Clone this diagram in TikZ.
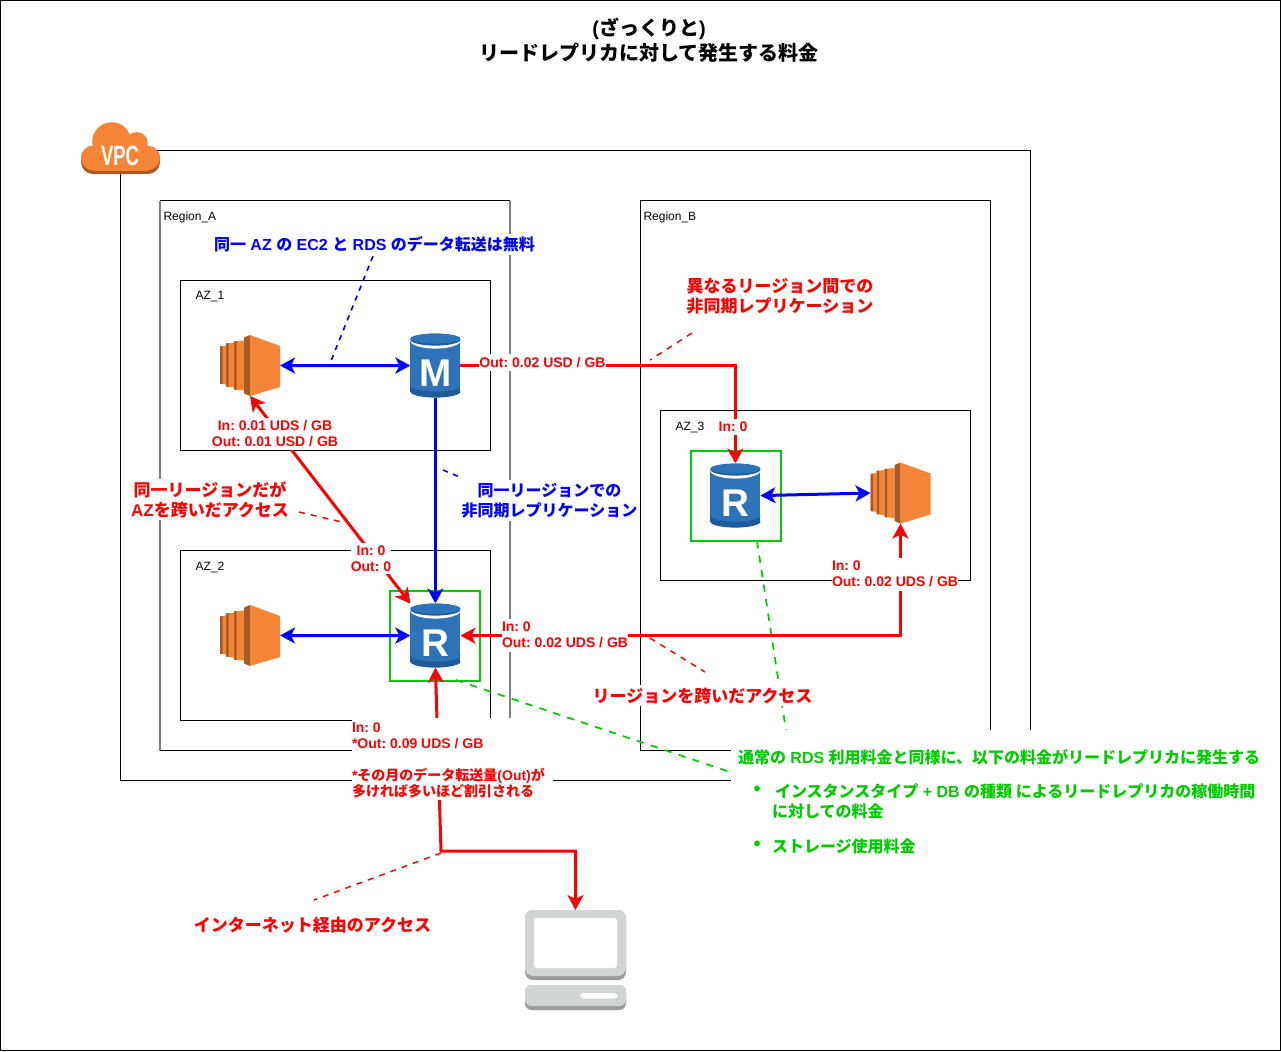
\documentclass[tikz,border=0pt]{standalone}
\usepackage{fontspec}
\setmainfont{Liberation Sans}
\newfontfamily\cjk{Noto Sans CJK JP}
\newcommand{\cj}[1]{{\cjk #1}}
\usetikzlibrary{arrows.meta,calc}
\definecolor{awsorange}{HTML}{F58536}
\definecolor{awsdark}{HTML}{A85A25}
\definecolor{rdsblue}{HTML}{2E73B8}
\definecolor{rdsdark}{HTML}{205B99}
\definecolor{pclight}{HTML}{D2D3D3}
\definecolor{pcdark}{HTML}{9B9B9B}
\definecolor{grn}{HTML}{00CC00}
\tikzset{
 x=0.75pt,y=-0.75pt,
 boxline/.style={draw=black,line width=0.75pt},
 greyline/.style={draw=black!50,line width=1.3pt},
 icon/.style={inner sep=0,outer sep=0,minimum width=50*0.75pt,minimum height=64*0.75pt},
 ectwobox/.style={inner sep=0,outer sep=0,minimum width=60*0.75pt,minimum height=61*0.75pt},
 tipb/.tip={Stealth[length=11.25pt,width=12pt,inset=3pt]},
 bluearrow/.style={draw=blue,line width=2.25pt},
 redarrow/.style={draw=red,line width=2.25pt},
 bluenote/.style={draw=blue,line width=1.2pt,dash pattern=on 4pt off 4pt},
 rednote/.style={draw=red,line width=1.1pt,dash pattern=on 4.5pt off 4.5pt},
 greennote/.style={draw=grn,line width=1.3pt,dash pattern=on 5.5pt off 5.5pt},
 lab/.style={inner sep=0,outer sep=0,font=\fontsize{10.5}{12}\selectfont\bfseries\frenchspacing,text=red,fill=white},
 big/.style={inner sep=0,outer sep=0,font=\fontsize{12}{15}\selectfont\bfseries\frenchspacing,fill=white},
 bigr/.style={inner sep=0,outer sep=0,font=\fontsize{12.75}{15}\selectfont\bfseries\frenchspacing,fill=white,text=red},
 small/.style={inner sep=0,outer sep=0,font=\fontsize{9}{11}\selectfont,anchor=west},
 ectwoicon/.pic={
  \foreach \a/\w/\t/\b in {-30/6/-19/18,-24/8/-22/21,-16/10/-24/24}{
   \fill[awsorange] (\a,\t) -- (\a+\w,\t-1) -- (\a+\w,\b+1) -- (\a,\b) -- cycle;
   \fill[awsdark] (\a,\t) -- (\a+2.5,\t-0.5) -- (\a+2.5,\b+0.5) -- (\a,\b) -- cycle;
  }
  \fill[awsdark] (-6,-28) -- (0,-30.5) -- (0,30.5) -- (-6,28) -- cycle;
  \fill[awsorange] (0,-30.5) -- (30,-19.5) -- (30,21.5) -- (0,30.5) -- cycle;
 },
 rdsicon/.pic={
  \fill[rdsdark] (0,26) ellipse [x radius=25,y radius=6];
  \fill[rdsdark] (-25,20) rectangle (25,26);
  \fill[rdsblue] (0,20) ellipse [x radius=25,y radius=6];
  \fill[rdsblue] (-25,-25) rectangle (25,20);
  \fill[white] (0,-25) ellipse [x radius=25,y radius=8];
  \fill[rdsdark] (0,-26) ellipse [x radius=25,y radius=6];
  \fill[rdsblue] (0,-27) ellipse [x radius=25,y radius=5];
  \node[inner sep=0,text=white,font=\fontsize{29}{29}\selectfont\bfseries] (lbl) at (0,8) {#1};
 },
 pcicon/.pic={
  \fill[pcdark,rounded corners=6pt] (-50.5,-50) rectangle (50.5,20);
  \fill[pclight,rounded corners=6pt] (-50.5,-50) rectangle (50.5,16);
  \fill[white,rounded corners=2pt] (-41.5,-42) rectangle (41.5,8);
  \fill[pcdark,rounded corners=5pt] (-50.5,25) rectangle (50.5,50);
  \fill[pclight,rounded corners=5pt] (-50.5,25) rectangle (50.5,46);
  \fill[white,rounded corners=2.5pt] (4.5,33) rectangle (42,38.5);
 }
}
\begin{document}
\begin{tikzpicture}
\useasboundingbox (0,0) rectangle (1281,1051);
\draw[boxline] (0.5,0.5) rectangle (1280.5,1050.5);
% containers
\draw[boxline] (120.5,150.5) rectangle (1030.5,780.5);
\draw[greyline] (160,200.5) -- (160,750.5);
\draw[greyline] (510,200.5) -- (510,750.5);
\draw[boxline] (160,200.5) -- (510,200.5);
\draw[boxline] (160,750.5) -- (510,750.5);
\draw[boxline] (640.5,200.5) rectangle (990.5,750.5);
\draw[boxline] (180.5,280.5) rectangle (490.5,450.5);
\draw[boxline] (180.5,550.5) rectangle (490.5,720.5);
\draw[boxline] (660.5,410.5) rectangle (970.5,580.5);
\node[small] (regiona) at (163.5,217) {Region\_A};
\node[small] (regionb) at (643.5,217) {Region\_B};
\node[small] (aza) at (195.5,297) {AZ\_1};
\node[small] (azb) at (195.5,567) {AZ\_2};
\node[small] (azc) at (675.5,427) {AZ\_3};
% green replica frames
\draw[draw=grn,line width=1.5pt] (389.5,590.5) rectangle (479.5,680.5);
\draw[draw=grn,line width=1.5pt] (690.5,450.5) rectangle (780.5,540.5);
% anchors for icons
\node[ectwobox] (ea) at (250,365.5) {};
\node[ectwobox] (eb) at (250,635.5) {};
\node[ectwobox] (ec) at (900.5,493) {};
\node[icon] (m) at (435.4,365.6) {};
\node[icon] (ra) at (435.4,635.6) {};
\node[icon] (rb) at (735.4,495.6) {};
\node[inner sep=0,outer sep=0,minimum width=75.75pt,minimum height=75pt] (pc) at (575.5,960) {};
\coordinate (bend) at (441,851);
% notes leaders
\coordinate (na) at (373,256); \coordinate (nb) at (331,361);
\coordinate (nc) at (443,470); \coordinate (nd) at (462,478);
\coordinate (ne) at (692,333); \coordinate (nf) at (650,360);
\coordinate (ng) at (299,512); \coordinate (nh) at (342,522);
\coordinate (ni) at (650,638); \coordinate (nj) at (705,672);
\coordinate (nk) at (441,853); \coordinate (nl) at (314,900);
\coordinate (nm) at (757,541); \coordinate (nn) at (787,737);
\coordinate (no) at (456,680); \coordinate (np) at (733,773);
\draw[bluenote] (na) -- (nb);
\draw[bluenote] (nc) -- (nd);
\draw[rednote] (ne) -- (nf);
\draw[rednote] (ng) -- (nh);
\draw[rednote] (ni) -- (nj);
\draw[rednote] (nk) -- (nl);
\draw[greennote] (nm) -- (nn);
\draw[greennote] (no) -- (np);
% connectors
\draw[bluearrow,{tipb}-{tipb}] (ea.east) -- (m.west);
\draw[bluearrow,-{tipb}] (m.south) -- (ra.north);
\draw[bluearrow,{tipb}-{tipb}] (eb.east) -- (ra.west);
\draw[bluearrow,{tipb}-{tipb}] (rb.east) -- (ec.west);
\draw[redarrow,-{tipb}] (m.east) -| (rb.north);
\draw[redarrow,{tipb}-{tipb}] (ea.south) -- (ra.north west);
\draw[redarrow,{tipb}-{tipb}] (ec.south) |- (ra.east);
\draw[redarrow,{tipb}-{tipb}] (ra.south) -- (bend) -| (pc.north);
% white-backed labels
\node[lab,minimum height=17*0.75pt] (outm) at (542.5,362.5) {Out: 0.02 USD / GB};
\node[lab,minimum height=16*0.75pt] (inrb) at (733,426.5) {In: 0};
\node[lab,align=center,minimum height=32*0.75pt,minimum width=127*0.75pt] (labea) at (275,433.5) {In: 0.01 UDS / GB\\Out: 0.01 USD / GB};
\node[lab,align=center,minimum height=31*0.75pt,minimum width=40*0.75pt] (labaz) at (371,558.5) {In: 0\\Out: 0};
\node[lab,anchor=west,align=left,minimum height=33*0.75pt] (labmid) at (502,635) {In: 0\\Out: 0.02 UDS / GB};
\node[lab,anchor=west,align=left,minimum height=33*0.75pt] (labec) at (832,574) {In: 0\\Out: 0.02 UDS / GB};
\node[fill=white,inner sep=0,outer sep=0,minimum width=201*0.75pt,minimum height=82*0.75pt] (netmask) at (452.5,759) {};
\node[lab,anchor=north west,fill=none,align=left] (labnet) at (352,723) {In: 0\\*Out: 0.09 UDS / GB};
\node[lab,anchor=north west,fill=none,align=left] (labdisc) at (352,768) {*\cj{その月のデータ転送量}(Out)\cj{が}\\\cj{多ければ多いほど割引される}};
% big notes
\node[big,text=blue,minimum height=21*0.75pt] (titleblue) at (374.5,244.5) {\cj{同一} AZ \cj{の} EC2 \cj{と} RDS \cj{のデータ転送は無料}};
\node[big,text=blue,align=center,minimum height=41*0.75pt] (noteblue) at (549.5,500.5) {\cj{同一リージョンでの}\\\cj{非同期レプリケーション}};
\node[bigr,align=center] (notered) at (780,296) {\cj{異なるリージョン間での}\\\cj{非同期レプリケーション}};
\node[bigr,align=center,minimum height=41*0.75pt] (noteaz) at (210,499.5) {\cj{同一リージョンだが}\\AZ\cj{を跨いだアクセス}};
\node[bigr,minimum height=21*0.75pt] (notereg) at (702.5,695.5) {\cj{リージョンを跨いだアクセス}};
\node[bigr] (notenet) at (312.5,925) {\cj{インターネット経由のアクセス}};
% title
\node[inner sep=0,font=\fontsize{15}{19}\selectfont\bfseries,align=center] (title) at (649,40) {(\cj{ざっくりと})\\\cj{リードレプリカに対して発生する料金}};
% green note
\node[fill=white,inner sep=0,outer sep=0,minimum width=534*0.75pt,minimum height=130*0.75pt] (greenmask) at (998,795) {};
\node[big,text=grn,anchor=west,fill=none] (gl) at (738,757) {\cj{通常の} RDS \cj{利用料金と同様に、以下の料金がリードレプリカに発生する}};
\node[big,text=grn,anchor=west,fill=none] (gb) at (753.5,791) {\scalebox{1.25}{\textbullet}};
\node[big,text=grn,anchor=west,fill=none] (gt) at (775,791) {\cj{インスタンスタイプ} + DB \cj{の種類 によるリードレプリカの稼働時間}};
\node[big,text=grn,anchor=west,fill=none] (gu) at (772,811) {\cj{に対しての料金}};
\node[big,text=grn,anchor=west,fill=none] (gc) at (753.5,846) {\scalebox{1.25}{\textbullet}};
\node[big,text=grn,anchor=west,fill=none] (gv) at (772,846) {\cj{ストレージ使用料金}};
% icons
\pic (iea) at (ea) {ectwoicon};
\pic (ieb) at (eb) {ectwoicon};
\pic (iec) at (ec) {ectwoicon};
\pic (im) at (m) {rdsicon=M};
\pic (ira) at (ra) {rdsicon=R};
\pic (irb) at (rb) {rdsicon=R};
\pic (ipc) at (pc) {pcicon};
% VPC cloud
\fill[awsdark,rounded corners=9pt] (81,146) rectangle (160,174);
\fill[awsorange] (111.7,141.7) circle [radius=19.5];
\fill[awsorange] (136.7,143) circle [radius=11];
\fill[awsorange] (148,158) circle [radius=12];
\fill[awsorange] (93.5,158) circle [radius=12.5];
\fill[awsorange] (93.5,145) rectangle (148,170.5);
\node[inner sep=0,text=white,font=\fontsize{21}{21}\selectfont\bfseries] (vpc) at (120,155.5) {\scalebox{0.66}[1]{VPC}};
\end{tikzpicture}
\end{document}
